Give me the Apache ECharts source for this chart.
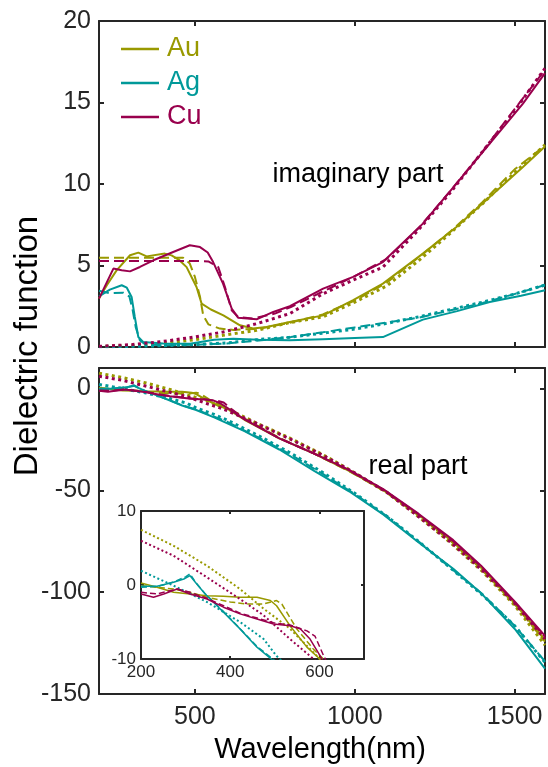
<!DOCTYPE html>
<html>
<head>
<meta charset="utf-8">
<script src="https://cdn.jsdelivr.net/npm/echarts@6/dist/echarts.min.js"></script>
<style>
  html, body { margin: 0; padding: 0; background: #fff; }
  #chart { width: 548px; height: 767px; }
</style>
</head>
<body>
<div id="chart"></div>
<script>
// [wavelength nm, value]
// imaginary part: solid = data, dashed = model, dotted = Drude
const auImSolid = [[200,2.97],[225,3.8],[255,4.7],[297,5.63],[323,5.79],[349,5.56],[406,5.73],[427,5.62],[450,5.35],[474,4.9],[505,3.68],[521,2.66],[550,2.3],[589,1.94],[641,1.33],[682,1.13],[724,1.23],[797,1.53],[901,1.94],[995,2.87],[1088,3.89],[1213,5.73],[1318,7.36],[1422,9.2],[1526,11.04],[1595,12.3]];
const auImDash = [[200,5.48],[300,5.48],[400,5.48],[463,5.48],[484,5.12],[500,4.3],[516,3.07],[526,1.94],[542,1.39],[578,1.13],[620,1.05],[700,1.12],[800,1.5],[900,2.0],[1000,2.85],[1100,3.95],[1200,5.5],[1300,7.1],[1400,8.9],[1500,10.9],[1595,12.35]];
const auImDot = [[200,0.03],[300,0.1],[400,0.22],[500,0.45],[588,0.72],[693,1.02],[797,1.5],[901,1.85],[1000,2.75],[1100,3.75],[1200,5.3],[1300,7.0],[1400,8.8],[1500,10.7],[1595,12.4]];
const agImSolid = [[200,3.1],[234,3.52],[271,3.79],[287,3.64],[302,3.07],[312,1.84],[323,0.61],[338,0.31],[400,0.22],[484,0.2],[560,0.45],[620,0.5],[700,0.45],[797,0.41],[900,0.48],[1000,0.55],[1088,0.61],[1213,1.68],[1320,2.2],[1422,2.76],[1520,3.15],[1595,3.48]];
const agImDash = [[200,3.45],[234,3.3],[276,3.33],[295,3.1],[305,2.3],[315,1.2],[328,0.4],[345,0.15],[400,0.1],[500,0.14],[600,0.22],[700,0.4],[800,0.62],[900,0.9],[1000,1.2],[1100,1.5],[1200,1.8],[1300,2.25],[1400,2.7],[1500,3.25],[1595,3.8]];
const agImDot = [[200,0.01],[300,0.04],[400,0.08],[500,0.15],[600,0.25],[693,0.45],[797,0.6],[900,0.85],[1000,1.1],[1100,1.45],[1200,1.85],[1300,2.3],[1400,2.75],[1500,3.25],[1595,3.8]];
const cuImSolid = [[200,2.97],[245,4.81],[271,4.71],[297,4.64],[328,4.91],[370,5.32],[432,5.83],[484,6.24],[516,6.13],[540,5.8],[557,5.21],[588,3.89],[615,2.36],[635,1.8],[693,1.7],[745,2.15],[797,2.5],[901,3.58],[995,4.3],[1088,5.21],[1213,7.57],[1318,10.02],[1422,12.48],[1526,14.93],[1595,16.8]];
const cuImDash = [[200,5.28],[300,5.28],[400,5.28],[500,5.28],[542,5.25],[573,4.9],[594,3.68],[615,2.25],[635,1.84],[680,1.75],[750,2.05],[800,2.45],[900,3.4],[1000,4.35],[1100,5.4],[1200,7.3],[1300,9.6],[1400,12.0],[1500,14.6],[1595,17.0]];
const cuImDot = [[200,0.04],[300,0.14],[400,0.34],[500,0.62],[588,0.92],[693,1.43],[797,2.05],[901,3.27],[1000,4.15],[1088,4.9],[1200,7.2],[1300,9.5],[1400,12.0],[1500,14.5],[1595,17.1]];

// real part
const auReSolid = [[200,0.27],[236,-0.31],[273,-0.99],[310,-1.21],[348,-1.44],[385,-1.53],[422,-1.66],[460,-1.66],[490,-2.1],[504,-2.8],[534,-5.5],[572,-8.4],[601,-10],[655,-15.4],[764,-24.5],[873,-32],[982,-40.5],[1090,-50],[1199,-62],[1308,-75.5],[1395,-88],[1503,-106],[1595,-123.5]];
const auReDash = [[200,-0.09],[273,-0.54],[310,-0.99],[348,-1.66],[400,-2.3],[437,-2.56],[475,-2.56],[504,-2.1],[516,-2.6],[549,-5.9],[587,-8.7],[609,-10],[655,-14.8],[764,-24.3],[873,-32],[982,-40.6],[1090,-50.2],[1199,-62.3],[1308,-76],[1395,-88.6],[1503,-106.5],[1595,-124.3]];
const auReDot = [[200,7.46],[273,5.3],[348,2.6],[422,-0.54],[475,-3.2],[534,-5.9],[601,-10],[693,-17],[797,-24.4],[900,-32.5],[1000,-41.5],[1100,-51],[1200,-63],[1300,-75.8],[1400,-90],[1500,-106.5],[1595,-126]];
const agReSolid = [[200,-0.18],[236,-0.18],[273,0.36],[296,0.81],[310,1.26],[325,0.13],[344,-1.21],[385,-3.69],[422,-5.93],[460,-8.4],[504,-10.6],[560,-14.2],[655,-21],[764,-30],[873,-40.5],[982,-50.5],[1090,-62],[1199,-75.5],[1308,-88.5],[1395,-100.5],[1503,-118.5],[1595,-137.5]];
const agReDash = [[200,-0.3],[236,-0.2],[273,0.4],[300,1.1],[310,1.5],[322,0.4],[344,-1.2],[385,-3.6],[422,-5.9],[460,-8.3],[504,-10.4],[600,-16.3],[700,-24.2],[800,-32.5],[900,-42],[1000,-51.8],[1100,-62.7],[1200,-75.2],[1300,-88.2],[1400,-101],[1500,-116.5],[1595,-134]];
const agReDot = [[200,1.93],[273,-0.09],[348,-2.3],[422,-5.0],[475,-7.3],[504,-9.6],[560,-12.8],[600,-15.5],[700,-23.3],[800,-31.8],[900,-41.3],[1000,-51.5],[1100,-62.7],[1200,-75.2],[1300,-88.2],[1400,-101.5],[1500,-116.5],[1595,-134.5]];
const cuReSolid = [[200,-1.21],[228,-1.66],[251,-1.21],[281,-0.54],[310,-1.21],[348,-1.89],[385,-3.0],[422,-3.9],[460,-4.6],[497,-5.26],[534,-5.5],[557,-5.9],[579,-7.3],[601,-9.5],[655,-15.2],[764,-24.5],[873,-32],[982,-40],[1090,-49.6],[1199,-61.5],[1308,-74.5],[1395,-87],[1503,-105],[1595,-121.5]];
const cuReDash = [[200,-0.99],[236,-1.21],[281,-0.54],[310,-0.99],[348,-1.8],[422,-3.8],[497,-5.1],[534,-5.4],[572,-6.2],[590,-6.9],[609,-9.5],[655,-15],[764,-24.5],[873,-32],[982,-40.2],[1090,-49.8],[1199,-61.8],[1308,-75],[1395,-87.5],[1503,-105.5],[1595,-122]];
const cuReDot = [[200,5.98],[273,3.96],[348,1.03],[422,-1.9],[475,-4.1],[534,-7.3],[587,-10],[693,-17.2],[797,-24.8],[900,-32.8],[1000,-41.5],[1100,-51],[1200,-63],[1300,-75.5],[1400,-89.5],[1500,-105.5],[1595,-123]];

// ticks
const xTicks = [500, 1000, 1500];
const imTicks = [0, 5, 10, 15, 20];
const reTicks = [-150, -100, -50, 0];
const insetXTicks = [200, 400, 600];
const insetYTicks = [-10, 0, 10];

const metals = ['Au', 'Ag', 'Cu'];
const colors = { Au: '#999900', Ag: '#009999', Cu: '#99004d' };
const imData = {
  Au: [auImSolid, auImDash, auImDot],
  Ag: [agImSolid, agImDash, agImDot],
  Cu: [cuImSolid, cuImDash, cuImDot],
};
const reData = {
  Au: [auReSolid, auReDash, auReDot],
  Ag: [agReSolid, agReDash, agReDot],
  Cu: [cuReSolid, cuReDash, cuReDot],
};

const font = 'Liberation Sans, Arial, Helvetica, sans-serif';
const axisColor = '#262626';

function makeAxis(gridIndex, min, max, position, ticks, labels, opts) {
  opts = opts || {};
  return {
    type: 'value',
    gridIndex,
    min,
    max,
    position,
    axisLine: { show: true, onZero: false, lineStyle: { color: axisColor, width: 2 } },
    axisTick: {
      show: true,
      inside: true,
      length: opts.tickLen || 5,
      customValues: ticks,
      lineStyle: { color: axisColor, width: 2 },
    },
    axisLabel: {
      show: labels,
      customValues: ticks,
      formatter: v => String(v),
      color: axisColor,
      fontFamily: font,
      fontSize: opts.fontSize || 25,
      margin: opts.margin || 8,
    },
    splitLine: { show: false },
  };
}

function makeLine(name, data, color, kind, xi, yi, thin) {
  const widths = thin ? [1.5, 1.5, 2] : [2, 2, 3];
  const dash = thin ? ['solid', [6, 3], [2, 2.5]] : ['solid', [10, 5], [3, 3.5]];
  return {
    name,
    type: 'line',
    xAxisIndex: xi,
    yAxisIndex: yi,
    data,
    symbol: 'none',
    showSymbol: false,
    silent: true,
    clip: true,
    itemStyle: { color },
    lineStyle: { color, width: widths[kind], type: dash[kind] },
  };
}

const series = [];
// top panel (imaginary) -> axes 0, bottom panel (real) -> axes 2, inset -> axes 4
metals.forEach(m => {
  imData[m].forEach((d, k) => series.push(makeLine(k === 0 ? m : m + k, d, colors[m], k, 0, 0, false)));
});
metals.forEach(m => {
  reData[m].forEach((d, k) => series.push(makeLine(k === 0 ? m : m + k, d, colors[m], k, 2, 2, false)));
});
metals.forEach(m => {
  reData[m].forEach((d, k) => series.push(makeLine(k === 0 ? m : m + k, d, colors[m], k, 4, 4, true)));
});

const chart = echarts.init(document.getElementById('chart'));
chart.setOption({
  animation: false,
  backgroundColor: '#fff',
  grid: [
    { left: 99, top: 21, width: 446, height: 326 },
    { left: 99, top: 368, width: 446, height: 326 },
    { left: 141, top: 511, width: 223, height: 148, show: true, backgroundColor: '#fff', borderWidth: 0 },
  ],
  xAxis: [
    makeAxis(0, 200, 1595, 'bottom', xTicks, false),
    makeAxis(0, 200, 1595, 'top', xTicks, false),
    makeAxis(1, 200, 1595, 'bottom', xTicks, true, { margin: 11 }),
    makeAxis(1, 200, 1595, 'top', xTicks, false),
    makeAxis(2, 200, 700, 'bottom', insetXTicks, true, { fontSize: 17, margin: 5, tickLen: 3 }),
    makeAxis(2, 200, 700, 'top', insetXTicks, false, { tickLen: 3 }),
  ],
  yAxis: [
    makeAxis(0, 0, 20, 'left', imTicks, true),
    makeAxis(0, 0, 20, 'right', imTicks, false),
    makeAxis(1, -150, 10, 'left', reTicks, true),
    makeAxis(1, -150, 10, 'right', reTicks, false),
    makeAxis(2, -10, 10, 'left', insetYTicks, true, { fontSize: 17, margin: 5, tickLen: 3 }),
    makeAxis(2, -10, 10, 'right', insetYTicks, false, { tickLen: 3 }),
  ],
  legend: {
    left: 116,
    top: 30,
    orient: 'vertical',
    icon: 'rect',
    itemWidth: 38,
    itemHeight: 2.5,
    itemGap: 6,
    selectedMode: false,
    data: metals.map(m => ({ name: m, textStyle: { color: colors[m] } })),
    textStyle: { fontFamily: font, fontSize: 27, lineHeight: 28, padding: [0, 0, 0, 3] },
  },
  graphic: [
    {
      type: 'text', x: 358, y: 175,
      style: { text: 'imaginary part', fontFamily: font, fontSize: 27, fill: '#000', align: 'center', verticalAlign: 'middle' },
    },
    {
      type: 'text', x: 418, y: 467,
      style: { text: 'real part', fontFamily: font, fontSize: 27, fill: '#000', align: 'center', verticalAlign: 'middle' },
    },
    {
      type: 'text', x: 320, y: 750,
      style: { text: 'Wavelength(nm)', fontFamily: font, fontSize: 29, fill: '#000', align: 'center', verticalAlign: 'middle' },
    },
    {
      type: 'text', x: 28, y: 346, rotation: Math.PI / 2,
      style: { text: 'Dielectric function', fontFamily: font, fontSize: 33, fill: '#000', align: 'center', verticalAlign: 'middle' },
    },
  ],
  series,
});
</script>
</body>
</html>
